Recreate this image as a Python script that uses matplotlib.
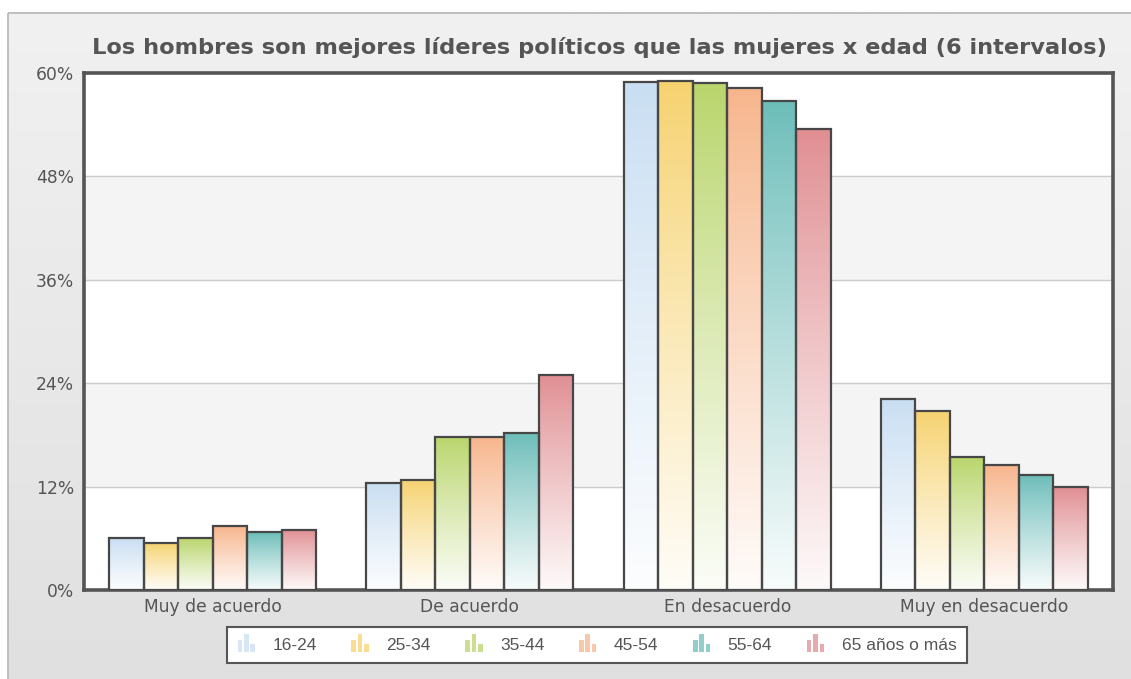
import numpy as np
import matplotlib
matplotlib.use("Agg")
import matplotlib.pyplot as plt
from matplotlib.patches import Rectangle
from matplotlib.legend_handler import HandlerBase
from matplotlib.colors import to_rgb

# data (percent)
categories = ["Muy de acuerdo", "De acuerdo", "En desacuerdo", "Muy en desacuerdo"]
groups = ["16-24", "25-34", "35-44", "45-54", "55-64", "65 años o más"]
v_16_24 = [6.0, 12.4, 58.9, 22.2]
v_25_34 = [5.4, 12.8, 59.1, 20.8]
v_35_44 = [6.0, 17.8, 58.8, 15.4]
v_45_54 = [7.4, 17.8, 58.3, 14.5]
v_55_64 = [6.7, 18.2, 56.7, 13.3]
v_65_mas = [7.0, 25.0, 53.5, 11.9]
series = [v_16_24, v_25_34, v_35_44, v_45_54, v_55_64, v_65_mas]
colors = ["#c9def2", "#f6d26f", "#b9d56b", "#f7b58c", "#6cbdb9", "#e08e92"]
yticks = [0, 12, 24, 36, 48, 60]

W, H = 1131, 679
fig = plt.figure(figsize=(W / 100, H / 100), dpi=100)
fig.patch.set_facecolor("white")

# grey panel behind the chart with a vertical gradient
bg = fig.add_axes([0, 0, 1, 1], zorder=-10)
bg.set_xlim(0, W)
bg.set_ylim(H, 0)
bg.axis("off")
grad = np.linspace(0, 1, 256).reshape(-1, 1)
top_c = np.array(to_rgb("#f1f1f1"))
bot_c = np.array(to_rgb("#e0e0e0"))
img = top_c + (bot_c - top_c) * grad[..., None]
bg.imshow(img, extent=[8, W, H, 13], aspect="auto", zorder=0)
bg.add_patch(Rectangle((8, 13), W, H, fill=False, ec="#b5b5b5", lw=1.2, zorder=1))

ax = fig.add_axes([84 / W, 1 - 590 / H, (1113 - 84) / W, (590 - 73) / H])
ax.set_xlim(0, 4)
ax.set_ylim(0, 60)
ax.set_facecolor("white")

# alternating bands
for lo in [12, 36]:
    ax.axhspan(lo, lo + 12, color="#f4f4f4", zorder=0)
for t in yticks[1:-1]:
    ax.axhline(t, color="#cccccc", lw=1.0, zorder=1)

bw = 0.134
n = len(groups)
x0 = np.arange(len(categories)) + 0.5
for i, (vals, col) in enumerate(zip(series, colors)):
    xs = x0 + (i - (n - 1) / 2) * bw
    bars = ax.bar(xs, vals, width=bw, color="none", edgecolor="#474747",
                  linewidth=1.6, zorder=4)
    c = np.array(to_rgb(col))
    g = np.linspace(0, 1, 200).reshape(-1, 1)
    # top = full colour, bottom = almost white
    gimg = c + (np.ones(3) - c) * (g[..., None] ** 0.9) * 0.95
    for b in bars:
        x, w, h = b.get_x(), b.get_width(), b.get_height()
        ax.imshow(gimg, extent=[x, x + w, 0, h], aspect="auto", zorder=3,
                  origin="upper", interpolation="bilinear")
ax.set_xlim(0, 4)
ax.set_ylim(0, 60)

for s in ax.spines.values():
    s.set_color("#555555")
    s.set_linewidth(2.6)

ax.set_yticks(yticks)
ax.set_yticklabels([f"{t}%" for t in yticks])
ax.set_xticks(x0)
ax.set_xticklabels(categories)
ax.tick_params(length=0, colors="#555555", labelsize=12.3)
ax.tick_params(axis="y", pad=7)
ax.tick_params(axis="x", pad=6)

fig.text(599 / W, 1 - 48 / H,
         "Los hombres son mejores líderes políticos que las mujeres x edad (6 intervalos)",
         ha="center", va="center", fontsize=16.2, fontweight="bold", color="#555555")


class BarIcon(HandlerBase):
    def create_artists(self, legend, orig, xd, yd, width, height, fontsize, trans):
        col = orig.get_facecolor()
        arts = []
        hs = [0.7, 1.05, 0.5]
        bwid = width / 4.2
        for k, hh in enumerate(hs):
            r = Rectangle((xd + k * bwid * 1.4, yd - 2), bwid, (height + 4) * hh,
                          fc=col, ec="none", alpha=0.75, transform=trans)
            arts.append(r)
        return arts


handles = [Rectangle((0, 0), 1, 1, fc=c) for c in colors]
leg = fig.legend(handles, groups, loc="center", bbox_to_anchor=(597 / W, 1 - 645 / H),
                 ncol=6, frameon=True, handler_map={Rectangle: BarIcon()},
                 prop={"family": "Liberation Sans", "size": 12.5},
                 handlelength=1.1, handletextpad=0.9, columnspacing=2.0,
                 borderpad=0.6, fancybox=False, shadow=False, framealpha=1)
leg.get_frame().set_edgecolor("#555555")
leg.get_frame().set_facecolor("white")
leg.get_frame().set_linewidth(1.5)
for t in leg.get_texts():
    t.set_color("#555555")

fig.savefig("out.png", dpi=100)
